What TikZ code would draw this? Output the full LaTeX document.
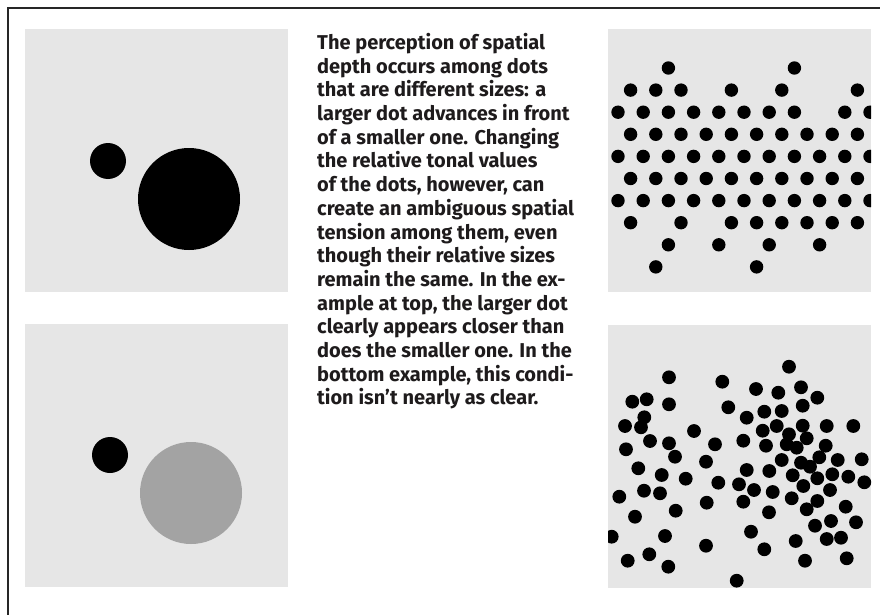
\documentclass[tikz,border=0pt]{standalone}
\usepackage{fontspec}
\setmainfont{Fira Sans}
\definecolor{panel}{HTML}{E6E6E6}
\definecolor{midgray}{HTML}{A3A3A3}
\definecolor{ink}{HTML}{1E1B1C}
\begin{document}
\begin{tikzpicture}[x=1pt,y=-1pt,
  panelbox/.style={fill=panel,draw=none},
  dotA/.style={fill=black,draw=none},
  framestroke/.style={draw=black!85,line width=2pt}]
\useasboundingbox (0,0) rectangle (880,615);
\fill[white] (0,0) rectangle (880,615);
% frame (top and left edges)
\draw[framestroke] (880,8) -- (8,8) -- (8,615);
% panels
\fill[panelbox] (25,29) rectangle (288,292);
\fill[panelbox] (25,324) rectangle (288,587);
\fill[panelbox] (608,29) rectangle (871,292);
\fill[panelbox] (608,325) rectangle (871,588);
% top-left
\fill[dotA] (108,161) circle (18);
\fill[dotA] (189,199) circle (51);
% bottom-left
\fill[dotA] (110,455) circle (18);
\fill[midgray] (191,493) circle (51);
% top-right grid of dots
\begin{scope}
\clip (608,29) rectangle (871,292);
\foreach \r/\ks in {1/{2,7}, 2/{0,1,2,4,6,9}, 3/{0,1,2,3,4,5,6,7,9,10}, 4/{0,...,9}, 5/{0,...,10}, 6/{0,...,9}, 7/{0,...,10}, 8/{0,2,4,5,6,7,8,9}, 9/{2,4,6,8}, 10/{1,5}}{
  \foreach \k in \ks {
    \pgfmathsetmacro\xx{618+12.6*mod(\r+1,2)+25.2*\k}
    \pgfmathsetmacro\yy{68+22.1*(\r-1)}
    \fill[dotA] (\xx,\yy) circle (6.7);
  }
}
\end{scope}
% bottom-right scattered dots
\begin{scope}
\clip (608,325) rectangle (871,588);
\foreach \p in {(789.0,366.7),(669.0,377.3),(722.3,381.7),(801.0,387.3),(756.0,389.0),(778.3,392.7),(817.3,397.7),(632.3,401.7),(646.7,399.3),(669.0,404.3),(728.3,407.3),(802.7,405.7),(764.3,411.7),(781.7,411.0),(644.3,417.3),(746.7,417.7),(625.0,426.0),(641.0,427.3),(694.0,431.0),(762.7,430.7),(776.7,426.0),(802.7,425.7),(826.7,426.0),(853.3,426.0),(789.0,434.3),(806.7,438.3),(650.0,441.0),(669.0,443.3),(715.0,444.3),(743.3,440.7),(766.0,445.7),(786.7,444.3),(796.7,447.7),(825.7,445.7),(626.0,449.3),(675.0,456.7),(706.0,461.7),(781.7,460.0),(801.0,462.7),(819.3,457.3),(837.7,460.0),(861.7,459.3),(638.3,468.3),(746.7,470.0),(769.3,471.0),(810.0,466.7),(661.7,475.0),(685.7,478.7),(792.7,475.3),(817.3,478.3),(832.3,474.3),(848.3,476.7),(718.3,482.7),(739.0,484.3),(803.3,486.0),(864.3,482.3),(644.0,490.7),(660.0,493.3),(754.0,490.0),(772.7,492.0),(830.0,490.0),(619.3,496.7),(706.7,502.7),(743.3,501.7),(791.7,498.3),(817.3,501.0),(675.7,510.7),(806.7,509.3),(845.7,506.7),(635.0,516.7),(769.0,512.3),(815.0,525.7),(831.0,521.0),(856.0,522.3),(611.7,536.7),(665.0,536.0),(751.0,531.7),(706.0,545.7),(795.7,541.0),(826.7,539.0),(841.0,537.7),(649.3,554.3),(764.3,549.3),(627.7,560.7),(668.3,566.7),(805.0,560.7),(846.7,558.3),(736.7,580.7)}{
  \fill[dotA] \p circle (6.9);
}
\end{scope}
% caption text
\node[anchor=north west,inner sep=0pt,align=left,text=ink,
  font=\fontsize{20}{23.7}\selectfont\bfseries] (caption) at (317,33)
{The perception of spatial\\
depth occurs among dots\\
that are different sizes: a\\
larger dot advances in front\\
of a smaller one. Changing\\
the relative tonal values\\
of the dots, however, can\\
create an ambiguous spatial\\
tension among them, even\\
though their relative sizes\\
remain the same. In the ex-\\
ample at top, the larger dot\\
clearly appears closer than\\
does the smaller one. In the\\
bottom example, this condi-\\
tion isn’t nearly as clear.};
\end{tikzpicture}
\end{document}
